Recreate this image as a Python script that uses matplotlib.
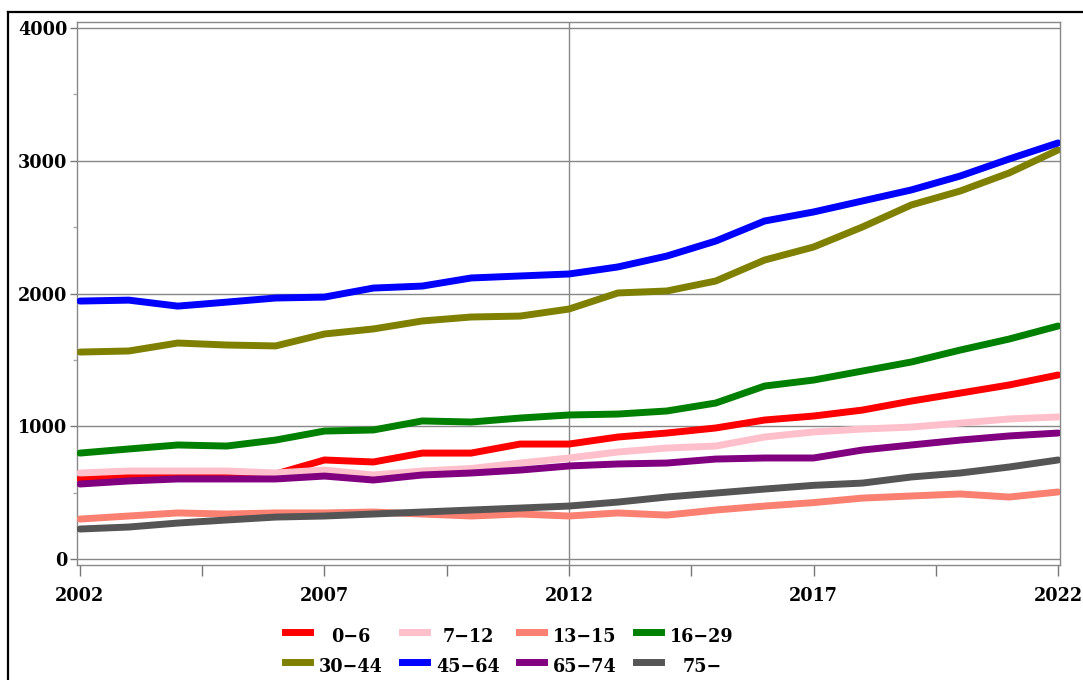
import matplotlib
matplotlib.use("Agg")
import matplotlib.pyplot as plt
from matplotlib.lines import Line2D
from matplotlib import font_manager as fm

years = list(range(2002, 2023))
labels = ["0\u22126", "7\u221212", "13\u221215", "16\u221229",
          "30\u221244", "45\u221264", "65\u221274", "75\u2212"]
colors = ["#ff0000", "#ffc0cb", "#fa8072", "#008000",
          "#808000", "#0000ff", "#800080", "#555555"]

s_0_6 = [603, 625, 633, 633, 640, 746, 731, 798, 798, 866, 866,
         919, 949, 987, 1047, 1077, 1122, 1190, 1250, 1311, 1386]
s_7_12 = [648, 663, 663, 663, 648, 670, 633, 663, 682, 723, 761,
          806, 836, 851, 919, 957, 979, 994, 1024, 1055, 1070]
s_13_15 = [301, 324, 347, 339, 347, 347, 354, 339, 324, 339, 324,
           347, 331, 369, 399, 425, 459, 475, 490, 467, 505]
s_16_29 = [798, 829, 859, 851, 896, 964, 972, 1040, 1032, 1062, 1085,
           1092, 1115, 1175, 1303, 1348, 1416, 1484, 1574, 1657, 1755]
s_30_44 = [1559, 1567, 1627, 1612, 1605, 1695, 1733, 1793, 1823, 1830, 1883,
           2004, 2019, 2094, 2252, 2350, 2501, 2667, 2772, 2908, 3081]
s_45_64 = [1943, 1950, 1905, 1935, 1966, 1973, 2041, 2056, 2117, 2132, 2147,
           2200, 2282, 2395, 2546, 2614, 2697, 2780, 2885, 3013, 3134]
s_65_74 = [565, 588, 603, 603, 603, 625, 595, 633, 648, 670, 701,
           716, 723, 753, 761, 761, 821, 859, 896, 927, 949]
s_75 = [226, 241, 271, 294, 316, 324, 339, 354, 369, 384, 399,
        429, 467, 497, 527, 555, 572, 618, 648, 693, 746]

series = [s_0_6, s_7_12, s_13_15, s_16_29, s_30_44, s_45_64, s_65_74, s_75]

fp = fm.FontProperties(family='DejaVu Serif', weight='bold', stretch='condensed', size=14)
print(fm.findfont(fp))

fig = plt.figure(figsize=(10.83, 6.80), dpi=100)
ax = fig.add_axes([77/1083, 1-565/680, (1060-77)/1083, (565-22)/680])

# outer frame (top and left)
fig.add_artist(Line2D([8/1083, 8/1083], [0, 1-12/680], transform=fig.transFigure,
                      color="black", lw=1.6))
fig.add_artist(Line2D([8/1083, 1], [1-12/680, 1-12/680], transform=fig.transFigure,
                      color="black", lw=1.6))

for ys, c in zip(series, colors):
    ax.plot(years, ys, color=c, lw=5, solid_capstyle='round', solid_joinstyle='round', zorder=3)

ax.set_xlim(2001.94, 2022.04)
ax.set_ylim(-45, 4045)

ax.set_xticks([2002, 2007, 2012, 2017, 2022])
ax.set_xticks([2004.5, 2009.5, 2014.5, 2019.5], minor=True)
ax.set_yticks([0, 1000, 2000, 3000, 4000])
ax.set_yticks([500, 1500, 2500, 3500], minor=True)
ax.tick_params(axis='x', which='both', direction='out', length=8, width=1, color='#777777', pad=8)
ax.tick_params(axis='y', which='major', direction='out', length=5, width=1, color='#777777', pad=2)
ax.tick_params(axis='y', which='minor', direction='out', length=3, width=1, color='#aaaaaa')
for lab in ax.get_xticklabels() + ax.get_yticklabels():
    lab.set_fontproperties(fp)

ax.grid(axis='y', which='major', color='#888888', lw=1, zorder=1)
ax.axvline(2012, color='#888888', lw=1, zorder=1)
for sp in ax.spines.values():
    sp.set_color('#888888')
    sp.set_linewidth(1)

# legend, 2 rows x 4 columns
for i, (lab, c) in enumerate(zip(labels, colors)):
    row, col = divmod(i, 4)
    hx0 = (285 + 117 * col) / 1083
    hx1 = (310 + 117 * col) / 1083
    hy = 1 - (632 + 30 * row) / 680
    fig.add_artist(Line2D([hx0, hx1], [hy, hy], transform=fig.transFigure,
                          color=c, lw=5))
    tx = (351 + 117 * col) / 1083
    ty = 1 - (637 + 30 * row) / 680
    fig.text(tx, ty, lab, ha='center', va='center', fontproperties=fp)

fig.savefig("out.png", dpi=100)
